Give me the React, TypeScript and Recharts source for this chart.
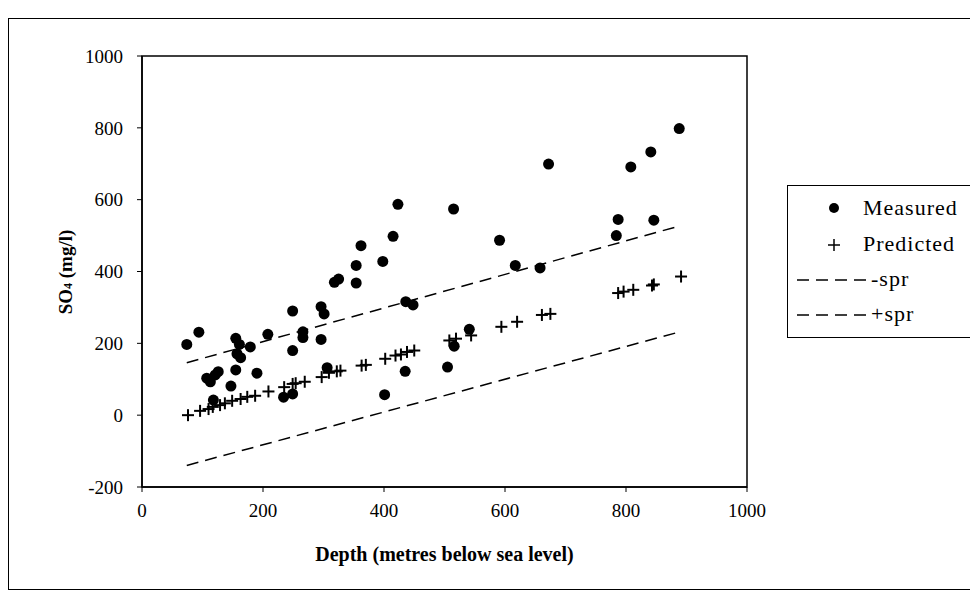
import React from 'react'
import { ScatterChart, Scatter, XAxis, YAxis, ReferenceArea } from 'recharts'

// SO4 vs depth: measured samples, model prediction and the +/- spread band
const measuredDepth = [74, 94, 107, 113, 121, 126, 118, 147, 155, 155, 157, 161, 163, 179, 190, 208, 234, 249, 249, 249, 266, 266, 296, 301, 296, 306, 318, 325, 354, 354, 362, 398, 401, 415, 423, 435, 436, 448, 505, 515, 516, 541, 591, 617, 658, 672, 784, 787, 808, 841, 846, 888]
const measuredSO4 = [197, 231, 103, 93, 112, 121, 42, 81, 214, 126, 171, 197, 160, 190, 117, 225, 50, 290, 180, 59, 232, 216, 302, 282, 211, 132, 370, 379, 417, 368, 472, 428, 57, 498, 587, 122, 316, 307, 134, 574, 192, 239, 487, 417, 410, 699, 500, 545, 691, 733, 543, 798]

const predictedDepth = [76, 96, 110, 117, 129, 137, 149, 163, 174, 187, 209, 235, 249, 254, 269, 297, 309, 322, 328, 363, 370, 402, 419, 428, 438, 450, 508, 519, 544, 594, 620, 661, 675, 787, 796, 812, 843, 846, 891]
const predictedSO4 = [0, 12, 17, 23, 28, 33, 40, 45, 51, 54, 66, 78, 87, 89, 93, 106, 118, 122, 124, 138, 140, 157, 166, 169, 176, 180, 208, 213, 222, 246, 260, 279, 282, 340, 344, 349, 361, 364, 386]

const sprDepth = [74, 889]
const minusSpr = [-140, 232]
const plusSpr = [146, 527]

const xTicks = [0, 200, 400, 600, 800, 1000]
const yTicks = [-200, 0, 200, 400, 600, 800, 1000]

const measured = measuredDepth.map((d, i) => ({ depth: d, so4: measuredSO4[i] }))
const predicted = predictedDepth.map((d, i) => ({ depth: d, so4: predictedSO4[i] }))
const lowerBand = sprDepth.map((d, i) => ({ depth: d, so4: minusSpr[i] }))
const upperBand = sprDepth.map((d, i) => ({ depth: d, so4: plusSpr[i] }))

const FONT = '"Liberation Serif", "Times New Roman", serif'
const DASH = '12 7'

const Dot = (p: any) => <circle cx={p.cx} cy={p.cy} r={5.5} fill="#000" />
const Plus = (p: any) => (
  <g stroke="#000" strokeWidth={2}>
    <line x1={p.cx - 6} y1={p.cy} x2={p.cx + 6} y2={p.cy} />
    <line x1={p.cx} y1={p.cy - 6} x2={p.cx} y2={p.cy + 6} />
  </g>
)
const NoMark = () => <g />

const LegendBox = () => {
  const row = (top: number, icon: React.ReactNode, text: string, tx: number) => (
    <div style={{ position: 'absolute', top, left: 0, width: '100%', height: 30 }}>
      <svg width={90} height={30} style={{ position: 'absolute', left: 0, top: 0 }}>{icon}</svg>
      <span style={{ position: 'absolute', left: tx, top: 2, fontSize: 22, letterSpacing: 1 }}>{text}</span>
    </div>
  )
  return (
    <div style={{ position: 'absolute', left: 779, top: 177, width: 184, height: 153, border: '1px solid #000', fontFamily: FONT, color: '#000', boxSizing: 'border-box', background: '#fff' }}>
      {row(7, <circle cx={46} cy={15} r={5} fill="#000" />, 'Measured', 75)}
      {row(43, <g stroke="#000" strokeWidth={1.5}><line x1={40} y1={16} x2={52} y2={16} /><line x1={46} y1={10} x2={46} y2={22} /></g>, 'Predicted', 75)}
      {row(78, <line x1={9} y1={16} x2={82} y2={16} stroke="#000" strokeWidth={1.5} strokeDasharray="12 7" />, '-spr', 83)}
      {row(113, <line x1={9} y1={16} x2={82} y2={16} stroke="#000" strokeWidth={1.5} strokeDasharray="12 7" />, '+spr', 83)}
    </div>
  )
}

export default function App() {
  return (
    <div style={{ position: 'relative', width: 970, height: 587, fontFamily: FONT, background: '#fff' }}>
      <div style={{ position: 'absolute', left: 0, top: 10, width: 975, height: 572, border: '1.5px solid #000', boxSizing: 'border-box' }} />
      <ScatterChart width={970} height={585} margin={{ top: 48, right: 231, left: 74, bottom: 76 }}>
        <XAxis type="number" dataKey="depth" domain={[0, 1000]} ticks={xTicks} tickSize={5} tickMargin={12}
          axisLine={{ stroke: '#000', strokeWidth: 1.5 }} tickLine={{ stroke: '#000' }} height={30}
          tick={{ fontSize: 19, fill: '#000', fontFamily: FONT }}
          label={{ value: 'Depth (metres below sea level)', position: 'bottom', offset: 30, style: { fontSize: 20, fontWeight: 'bold', fill: '#000', fontFamily: FONT } }} />
        <YAxis type="number" dataKey="so4" domain={[-200, 1000]} ticks={yTicks} tickSize={5} tickMargin={14} width={60}
          axisLine={{ stroke: '#000', strokeWidth: 1.5 }} tickLine={{ stroke: '#000' }}
          tick={{ fontSize: 19, fill: '#000', fontFamily: FONT }} />
        <ReferenceArea x1={0} x2={1000} y1={-200} y2={1000} fill="none" stroke="#000" strokeWidth={1.5} ifOverflow="visible" />
        <Scatter name="-spr" data={lowerBand} shape={NoMark} line={{ stroke: '#000', strokeWidth: 1.5, strokeDasharray: DASH }} isAnimationActive={false} />
        <Scatter name="+spr" data={upperBand} shape={NoMark} line={{ stroke: '#000', strokeWidth: 1.5, strokeDasharray: DASH }} isAnimationActive={false} />
        <Scatter name="Predicted" data={predicted} shape={Plus} isAnimationActive={false} />
        <Scatter name="Measured" data={measured} shape={Dot} isAnimationActive={false} />
      </ScatterChart>
      <LegendBox />
      <div style={{ position: 'absolute', left: 58, top: 264, width: 0, height: 0 }}>
        <div style={{ position: 'absolute', transform: 'translate(-50%, -50%) rotate(-90deg)', whiteSpace: 'nowrap', fontSize: 19, fontWeight: 'bold', color: '#000' }}>
          SO<span style={{ fontSize: 12 }}>4</span> (mg/l)
        </div>
      </div>
    </div>
  )
}
